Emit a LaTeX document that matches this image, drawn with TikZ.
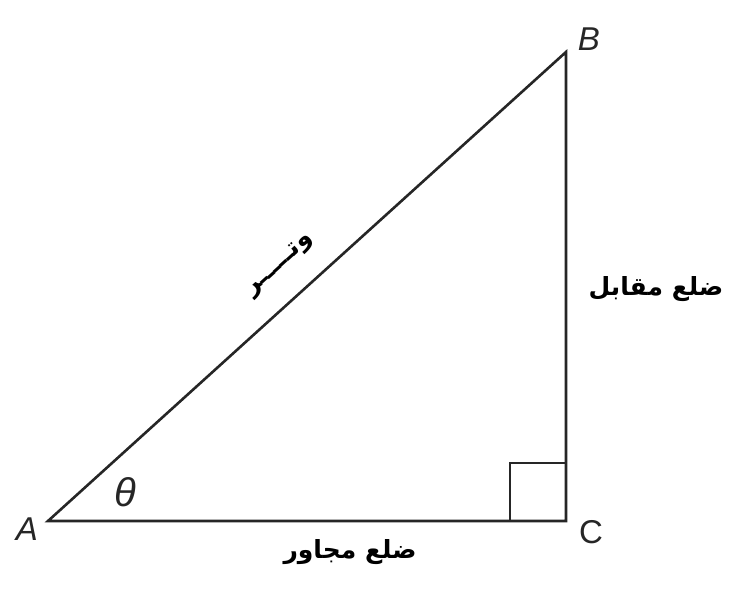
\documentclass[tikz,border=0pt]{standalone}
\usepackage{fontspec}
\setmainfont{Liberation Sans}
\newfontfamily\arabicfont[Script=Arabic]{DejaVu Sans}
\TeXXeTstate=1
\begin{document}
\begin{tikzpicture}[x=1pt,y=-1pt,
  edge/.style={line width=2.6pt,black!85},
  vlabel/.style={font=\fontsize{33}{35}\selectfont\itshape,text=black!85},
  arlabel/.style={font=\arabicfont\bfseries\fontsize{25}{28}\selectfont}]
\useasboundingbox (0,0) rectangle (756,599);
\coordinate (A) at (48,521);
\coordinate (B) at (566,52);
\coordinate (C) at (566,521);
\coordinate (S1) at (510,521);
\coordinate (S2) at (510,463);
\coordinate (S3) at (566,463);
\draw[edge,line join=miter] (A) -- (B) -- (C) -- cycle;
\draw[edge] (S1) -- (S2) -- (S3);
\node[vlabel] (la) at (27,529) {A};
\node[vlabel] (lb) at (589,39) {B};
\node[vlabel,font=\fontsize{33}{35}\selectfont] (lc) at (591,532) {C};
\node[vlabel,font=\fontsize{40}{42}\selectfont\itshape] (th) at (125,492) {θ};
\node[arlabel,rotate=42.2] (hyp) at (280,265) {\beginR وتـــــر\endR};
\node[arlabel] (opp) at (656,289) {\beginR ضلع مقابل\endR};
\node[arlabel] (adj) at (350,552) {\beginR ضلع مجاور\endR};
\end{tikzpicture}
\end{document}
